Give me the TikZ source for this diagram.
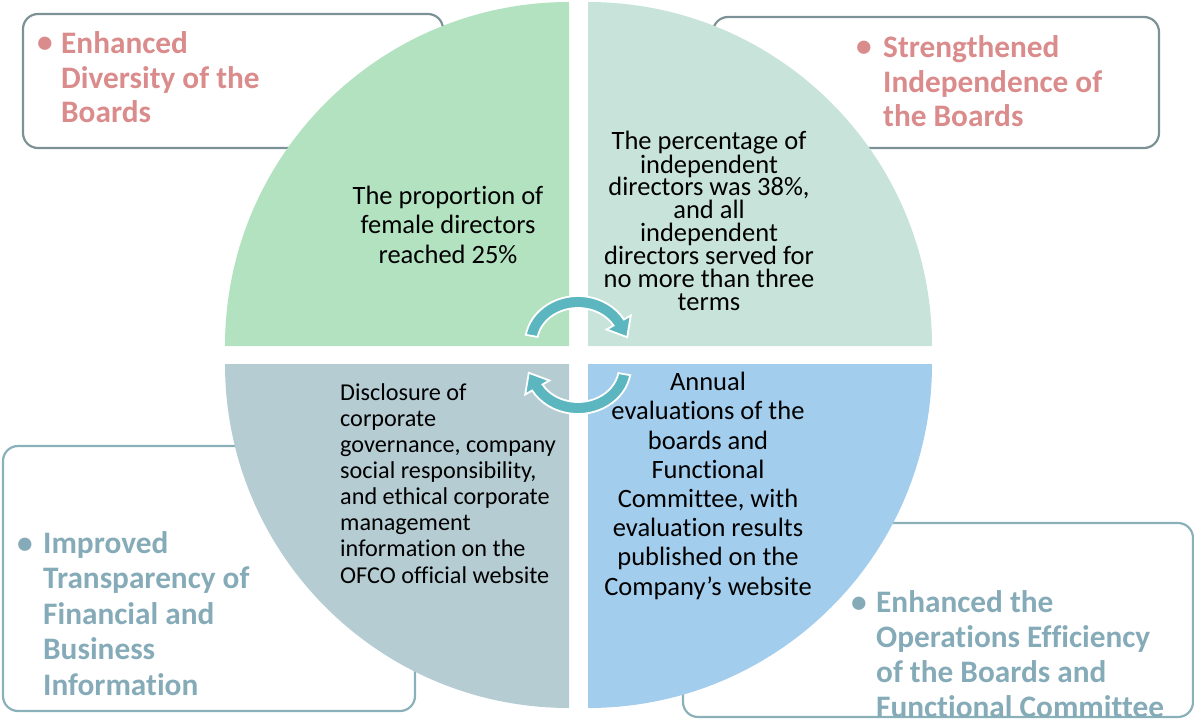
\documentclass[tikz,border=0pt]{standalone}
\usepackage{fontspec}
\setmainfont{Carlito}[Ligatures=NoCommon]
\usetikzlibrary{calc}
\definecolor{qtl}{RGB}{179,226,193}
\definecolor{qtr}{RGB}{200,228,218}
\definecolor{qbl}{RGB}{181,204,211}
\definecolor{qbr}{RGB}{163,205,237}
\definecolor{bordtop}{RGB}{125,146,150}
\definecolor{bordbot}{RGB}{138,176,186}
\definecolor{pinktxt}{RGB}{218,139,139}
\definecolor{tealtxt}{RGB}{134,171,184}
\definecolor{arrowteal}{RGB}{91,182,192}
\tikzset{
  tbox/.style={draw=bordtop, rounded corners=15bp, line width=2.2bp},
  bbox/.style={draw=bordbot, rounded corners=15bp, line width=2.2bp},
  headtxt/.style={font=\fontsize{31.4}{35}\selectfont\bfseries, align=left, inner sep=0pt, anchor=base west},
  bullet/.style={font=\fontsize{31.4}{35}\selectfont\bfseries, inner sep=0pt, anchor=base},
  bodytxt/.style={font=\fontsize{26.6}{29.3}\selectfont, inner sep=0pt, anchor=base, align=center},
  cyc/.style={fill=arrowteal, draw=white, line width=1.8bp, line join=miter}
}
\begin{document}
\begin{tikzpicture}[x=1bp, y=-1bp]
\useasboundingbox (0,0) rectangle (1194,719);
% outline boxes
\draw[tbox] (23,14) rectangle (443,148);
\draw[tbox] (713,17) rectangle (1159,148);
\draw[bbox] (3,446) rectangle (415,711);
\draw[bbox] (683,523) rectangle (1193,717);
% pie quadrants
\fill[qtl] (569,346) -- (225,346) arc[start angle=180, end angle=270, radius=344] -- cycle;
\fill[qtr] (588,346) -- (588,2) arc[start angle=270, end angle=360, radius=344] -- cycle;
\fill[qbr] (588,364) -- (932,364) arc[start angle=0, end angle=90, radius=344] -- cycle;
\fill[qbl] (569,364) -- (569,708) arc[start angle=90, end angle=180, radius=344] -- cycle;
% cycle arrows
\coordinate (ca) at (578,343);
\coordinate (cb) at (578,367);
\path[cyc] ($(ca)+(190:53 and 47)$) arc[start angle=190, end angle=330, x radius=53, y radius=47]
  -- (630.8,315.5) -- (627.2,337.2) -- (606.6,329.5)
  -- ($(ca)+(330:41 and 35)$) arc[start angle=330, end angle=190, x radius=41, y radius=35] -- cycle;
\path[cyc] ($(cb)+(10:53 and 47)$) arc[start angle=10, end angle=150, x radius=53, y radius=47]
  -- (525.2,394.5) -- (528.8,372.8) -- (549.4,380.5)
  -- ($(cb)+(150:41 and 35)$) arc[start angle=150, end angle=10, x radius=41, y radius=35] -- cycle;
% quadrant texts (anchor = baseline of last line)
\node[bodytxt] (ttl) at (448,263) {The proportion of\\female directors\\reached 25\%};
\node[bodytxt, font=\fontsize{26.6}{22.9}\selectfont] (ttr) at (709,310) {The percentage of\\independent\\directors was 38\%,\\and all\\independent\\directors served for\\no more than three\\terms};
\node[bodytxt, anchor=base west, align=left, font=\fontsize{24.3}{26.2}\selectfont] (tbl) at (340,583) {Disclosure of\\corporate\\governance, company\\social responsibility,\\and ethical corporate\\management\\information on the\\OFCO official website};
\node[bodytxt] (tbr) at (708,595) {Annual\\evaluations of the\\boards and\\Functional\\Committee, with\\evaluation results\\published on the\\Company’s website};
% box headings
\node[bullet, text=pinktxt] (b1) at (45,53) {•};
\node[headtxt, text=pinktxt] (h1) at (61,123) {Enhanced\\Diversity of the\\Boards};
\node[bullet, text=pinktxt] (b2) at (864,57) {•};
\node[headtxt, text=pinktxt] (h2) at (883,127) {Strengthened\\Independence of\\the Boards};
\node[bullet, text=tealtxt] (b3) at (25,553) {•};
\node[headtxt, text=tealtxt, font=\fontsize{31.4}{35.5}\selectfont\bfseries] (h3) at (43,695) {Improved\\Transparency of\\Financial and\\Business\\Information};
\node[bullet, text=tealtxt] (b4) at (859,612) {•};
\node[headtxt, text=tealtxt] (h4) at (876,717) {Enhanced the\\Operations Efficiency\\of the Boards and\\Functional Committee};
\end{tikzpicture}
\end{document}
